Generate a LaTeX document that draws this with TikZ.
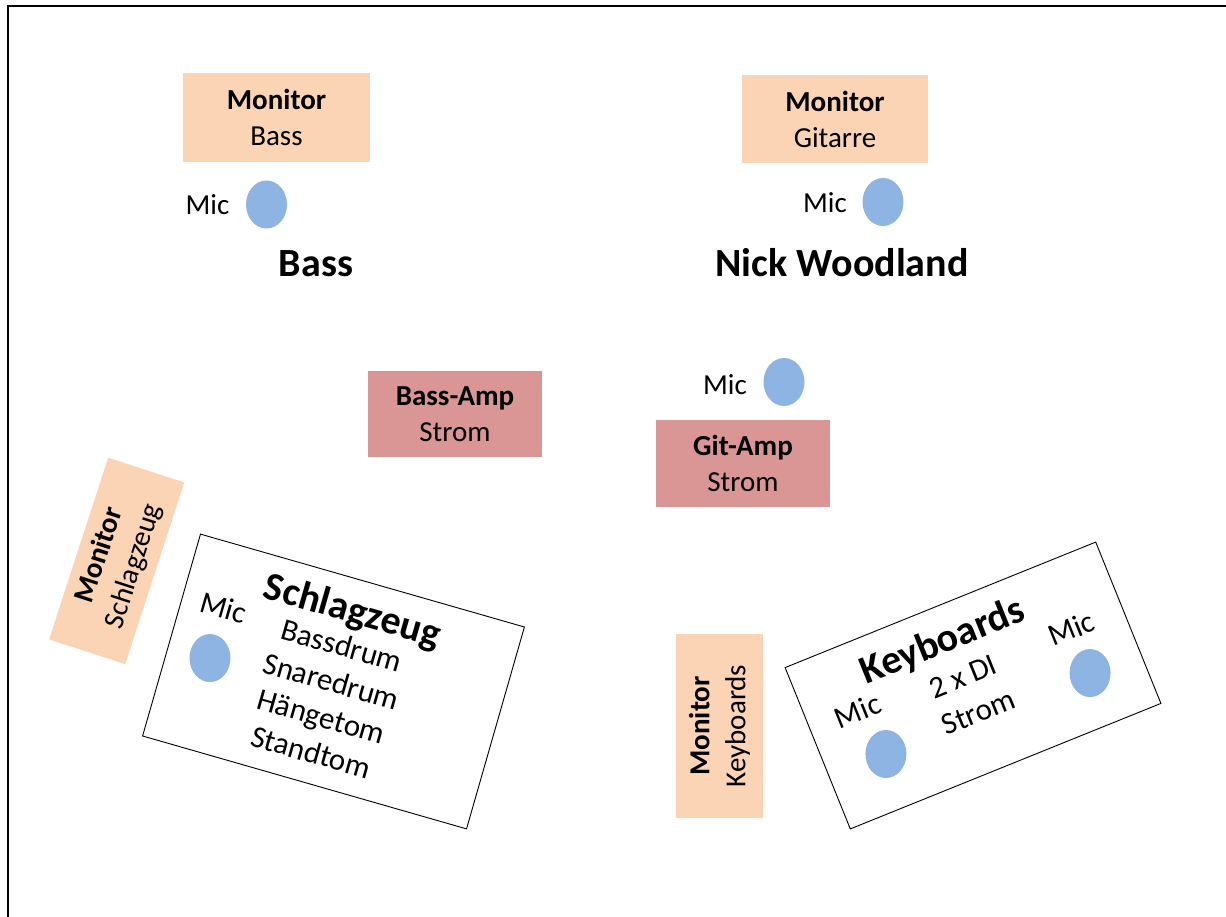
\documentclass[tikz,border=0pt]{standalone}
\usepackage{fontspec}
\setmainfont{Carlito}
\usetikzlibrary{shapes.geometric}
\definecolor{peach}{HTML}{FAD4B4}
\definecolor{amppink}{HTML}{D99694}
\definecolor{micblue}{HTML}{8EB4E3}
\newcommand\fsn{\fontsize{29}{36}\selectfont}
\newcommand\fsi{\fontsize{31}{37}\selectfont}
\newcommand\fsb{\fontsize{40}{48}\selectfont}
\begin{document}
\begin{tikzpicture}[x=1pt,y=-1pt,
  monbox/.style={fill=peach, inner sep=0pt, align=center, font=\fsn},
  ampbox/.style={fill=amppink, inner sep=0pt, align=center, font=\fsn},
  mic/.style={ellipse, fill=micblue, minimum width=41pt, minimum height=48pt, inner sep=0pt},
  miclabel/.style={font=\fsn, inner sep=0pt},
  bigl/.style={font=\fsb\bfseries, inner sep=0pt},
  stagebox/.style={draw=black, line width=0.9pt, inner sep=0pt},
  innertext/.style={font=\fsi, inner sep=0pt, text height=0.7em, text depth=0.2em}]
\useasboundingbox (0,0) rectangle (1226,917);
\fill[white] (0,0) rectangle (1226,917);
\coordinate (fbl) at (8,917);
\coordinate (ftl) at (8,6);
\coordinate (ftr) at (1226,6);
\draw[line width=2.7pt] (fbl) -- (ftl) -- (ftr);

% Bass player
\node[monbox, minimum width=187pt, minimum height=89pt] (monbass) at (276.5,117.5) {\textbf{Monitor}\\Bass};
\node[mic] (micbass) at (266.5,204.5) {};
\node[miclabel] (micbasst) at (207.5,205) {Mic};
\node[bigl, anchor=base] (basslbl) at (316,277) {Bass};

% Guitar player
\node[monbox, minimum width=186pt, minimum height=88pt] (mongit) at (835,119) {\textbf{Monitor}\\Gitarre};
\node[mic] (micgit) at (883,202) {};
\node[miclabel] (micgitt) at (825,203) {Mic};
\node[bigl, anchor=base] (nicklbl) at (842,277) {Nick Woodland};

% Amps
\node[ampbox, minimum width=174pt, minimum height=86pt] (bassamp) at (455,414) {\textbf{Bass-Amp}\\Strom};
\node[ampbox, minimum width=174pt, minimum height=87pt] (gitamp) at (743,463.5) {\textbf{Git-Amp}\\Strom};
\node[mic] (micamp) at (784,382) {};
\node[miclabel] (micampt) at (725,385) {Mic};

% Monitors
\node[monbox, rotate=72, minimum width=191pt, minimum height=80pt] (monsz) at (116.7,560.9) {\textbf{Monitor}\\Schlagzeug};
\node[monbox, rotate=90, minimum width=184pt, minimum height=87pt] (monkb) at (719.5,726) {\textbf{Monitor}\\Keyboards};

% Drums
\begin{scope}[shift={(333.5,681.5)}, rotate=-16]
\node[stagebox, rotate=-16, minimum width=337pt, minimum height=210pt] (drums) at (0,0) {};
\node[bigl, rotate=-16] (drumst) at (-1.4,-71.9) {Schlagzeug};
\node[innertext, rotate=-16] (bd) at (-2,-29) {Bassdrum};
\node[innertext, rotate=-16] (sd) at (-2,8.5) {Snaredrum};
\node[innertext, rotate=-16] (ht) at (-2,45) {Hängetom};
\node[innertext, rotate=-16] (st) at (-2,82) {Standtom};
\node[innertext, rotate=-16] (micdt) at (-125.9,-33) {Mic};
\node[mic] (micd) at (-125.2,11.5) {};
\end{scope}

% Keyboards
\begin{scope}[shift={(973,685.5)}, rotate=22]
\node[stagebox, rotate=22, minimum width=335pt, minimum height=174pt] (keys) at (0,0) {};
\node[bigl, rotate=22] (keyst) at (-11.5,-51.6) {Keyboards};
\node[innertext, rotate=22] (di) at (-6.1,-4.5) {2 x DI};
\node[innertext, rotate=22] (ks) at (-5,34.5) {Strom};
\node[innertext, rotate=22] (mickl) at (-116.5,-11.5) {Mic};
\node[mic] (mick1) at (-106.4,30.9) {};
\node[innertext, rotate=22] (mickr) at (112.6,-8) {Mic};
\node[mic] (mick2) at (113.2,32.3) {};
\end{scope}
\end{tikzpicture}
\end{document}
